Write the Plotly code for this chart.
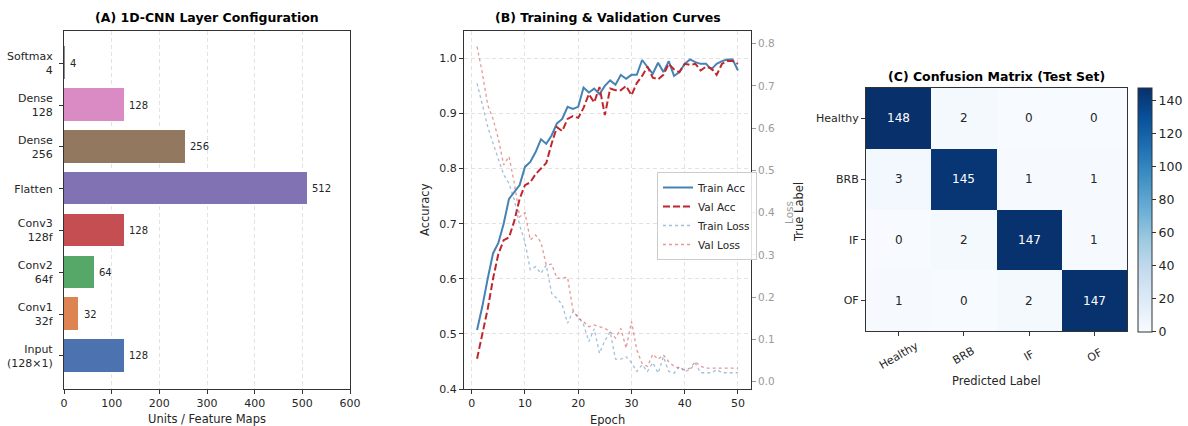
import plotly.graph_objects as go

# ---------------- Data ----------------
# Panel A: layer configuration
layer_labels = ["Input<br>(128×1)", "Conv1<br>32f", "Conv2<br>64f", "Conv3<br>128f",
                "Flatten", "Dense<br>256", "Dense<br>128", "Softmax<br>4"]
layer_units = [128, 32, 64, 128, 512, 256, 128, 4]
layer_colors = ["#4C72B0", "#DD8452", "#55A868", "#C44E52",
                "#8172B3", "#937860", "#DA8BC3", "#8C8C8C"]

# Panel B: training curves
epochs = list(range(1, 51))
train_acc = [0.507, 0.55, 0.60, 0.646, 0.665, 0.70, 0.745, 0.757, 0.77, 0.803,
             0.812, 0.83, 0.853, 0.845, 0.86, 0.882, 0.89, 0.912, 0.908, 0.912,
             0.947, 0.938, 0.945, 0.935, 0.95, 0.96, 0.952, 0.97, 0.963, 0.97,
             0.97, 0.997, 0.985, 0.972, 0.992, 0.975, 0.995, 0.968, 0.975, 0.99,
             0.998, 0.993, 0.99, 0.99, 0.98, 0.99, 0.995, 0.998, 0.998, 0.978]
val_acc = [0.455, 0.50, 0.545, 0.60, 0.645, 0.67, 0.675, 0.705, 0.745, 0.77,
           0.775, 0.79, 0.80, 0.81, 0.845, 0.875, 0.868, 0.89, 0.895, 0.892,
           0.91, 0.935, 0.92, 0.948, 0.897, 0.945, 0.942, 0.942, 0.95, 0.933,
           0.955, 0.968, 0.985, 0.965, 0.962, 0.97, 0.99, 0.98, 0.975, 0.99,
           0.988, 0.99, 0.978, 0.985, 0.982, 0.97, 0.99, 0.995, 0.995, 0.99]
train_loss = [0.706, 0.655, 0.604, 0.564, 0.525, 0.49, 0.469, 0.43, 0.37, 0.33,
              0.265, 0.272, 0.256, 0.276, 0.209, 0.197, 0.182, 0.138, 0.166, 0.154,
              0.135, 0.095, 0.125, 0.067, 0.097, 0.118, 0.053, 0.053, 0.059, 0.045,
              0.024, 0.04, 0.024, 0.045, 0.02, 0.059, 0.024, 0.02, 0.036, 0.024,
              0.028, 0.043, 0.021, 0.021, 0.021, 0.028, 0.021, 0.021, 0.021, 0.021]
val_loss = [0.793, 0.73, 0.655, 0.622, 0.575, 0.513, 0.533, 0.47, 0.39, 0.40,
            0.335, 0.347, 0.33, 0.276, 0.278, 0.245, 0.245, 0.247, 0.17, 0.15,
            0.142, 0.13, 0.134, 0.13, 0.126, 0.118, 0.103, 0.126, 0.079, 0.142,
            0.075, 0.043, 0.036, 0.065, 0.053, 0.063, 0.047, 0.036, 0.032, 0.028,
            0.032, 0.047, 0.036, 0.032, 0.032, 0.032, 0.032, 0.032, 0.032, 0.032]

# Panel C: confusion matrix
classes = ["Healthy", "BRB", "IF", "OF"]
conf_matrix = [[148, 2, 0, 0],
               [3, 145, 1, 1],
               [0, 2, 147, 1],
               [1, 0, 2, 147]]

blues = ["rgb(247,251,255)", "rgb(222,235,247)", "rgb(198,219,239)", "rgb(158,202,225)",
         "rgb(107,174,214)", "rgb(66,146,198)", "rgb(33,113,181)", "rgb(8,81,156)",
         "rgb(8,48,107)"]
blues_scale = [[i / (len(blues) - 1), c] for i, c in enumerate(blues)]

# ---------------- Figure geometry ----------------
W, H = 1188, 426
ML, MR, MT, MB = 40, 40, 10, 10
PW, PH = W - ML - MR, H - MT - MB
FONT = "DejaVu Sans"
FRAME = "#333333"
GRID = "#e3e3e3"
TXT = "#262626"


def px_x(p):
    return (p - ML) / PW


def px_y(p):
    return 1 - (p - MT) / PH


fig = go.Figure()

# Panel A bars
fig.add_trace(go.Bar(
    x=layer_units, y=list(range(len(layer_units))), orientation="h",
    width=0.8, marker=dict(color=layer_colors, line=dict(color="white", width=1)),
    showlegend=False, xaxis="x", yaxis="y", hoverinfo="x"))

annotations = []
for i, v in enumerate(layer_units):
    annotations.append(dict(x=v + 5, y=i, xref="x", yref="y", text=str(v),
                            showarrow=False, xanchor="left", yanchor="middle",
                            font=dict(family=FONT, size=10, color=TXT)))

# Panel B lines
fig.add_trace(go.Scatter(x=epochs, y=train_acc, mode="lines", name="Train Acc",
                         line=dict(color="#4682B4", width=2), xaxis="x2", yaxis="y2"))
fig.add_trace(go.Scatter(x=epochs, y=val_acc, mode="lines", name="Val Acc",
                         line=dict(color="#C0272D", width=2, dash="7px,3px"),
                         xaxis="x2", yaxis="y2"))
fig.add_trace(go.Scatter(x=epochs, y=train_loss, mode="lines", name="Train Loss",
                         line=dict(color="rgba(70,130,180,0.5)", width=1.3, dash="dot"),
                         xaxis="x2", yaxis="y3"))
fig.add_trace(go.Scatter(x=epochs, y=val_loss, mode="lines", name="Val Loss",
                         line=dict(color="rgba(205,50,50,0.5)", width=1.3, dash="dot"),
                         xaxis="x2", yaxis="y3"))

# Panel C heatmap
fig.add_trace(go.Heatmap(
    z=conf_matrix, x=classes, y=classes, colorscale=blues_scale, zmin=0, zmax=148,
    xaxis="x4", yaxis="y4", showscale=True, hoverinfo="z",
    colorbar=dict(x=px_x(1138), xanchor="left", y=px_y(209.5), yanchor="middle",
                  len=244.4 / PH, lenmode="fraction", thickness=14, thicknessmode="pixels",
                  outlinecolor=FRAME, outlinewidth=1, ticks="outside", ticklen=4,
                  tickcolor=FRAME, tickvals=[0, 20, 40, 60, 80, 100, 120, 140],
                  tickfont=dict(family=FONT, size=12.5, color=TXT), xpad=0, ypad=0)))

zmax = max(max(r) for r in conf_matrix)
for i, row in enumerate(conf_matrix):
    for j, v in enumerate(row):
        annotations.append(dict(x=classes[j], y=classes[i], xref="x4", yref="y4",
                                text=str(v), showarrow=False,
                                font=dict(family=FONT, size=12,
                                          color="white" if v > zmax / 2 else TXT)))

# rotated, centred x tick labels for the confusion matrix (matplotlib rotation=30)
for c in classes:
    annotations.append(dict(x=c, y=px_y(355), xref="x4", yref="paper",
                            xanchor="center", yanchor="middle", text=c,
                            showarrow=False, textangle=-30,
                            font=dict(family=FONT, size=11, color=TXT)))


def label(text, xc, yc, size=11.5, angle=0, color=TXT):
    annotations.append(dict(x=px_x(xc), y=px_y(yc), xref="paper", yref="paper",
                            xanchor="center", yanchor="middle",
                            text=text, showarrow=False, textangle=angle,
                            font=dict(family=FONT, size=size, color=color)))


label("<b>(A) 1D-CNN Layer Configuration</b>", 207, 18, size=12.5, color="black")
label("<b>(B) Training &amp; Validation Curves</b>", 607.5, 18, size=12.5, color="black")
label("<b>(C) Confusion Matrix (Test Set)</b>", 996.5, 77, size=12.5, color="black")
label("Units / Feature Maps", 207, 419)
label("Epoch", 607.5, 420)
label("Accuracy", 425, 210, angle=-90)
label("Loss", 789, 212, size=10.5, angle=-90, color="#9a9a9a")
label("True Label", 799, 212, angle=-90)
label("Predicted Label", 996.5, 381)

axis_common = dict(showline=True, linecolor=FRAME, linewidth=1.2, mirror=True,
                   ticks="outside", ticklen=4, tickcolor=FRAME, tickwidth=1,
                   zeroline=False, automargin=False,
                   tickfont=dict(family=FONT, size=11, color=TXT))
grid = dict(showgrid=True, gridcolor=GRID, griddash="4px,3px", gridwidth=1)

fig.update_layout(
    width=W, height=H, margin=dict(l=ML, r=MR, t=MT, b=MB, autoexpand=False),
    paper_bgcolor="white", plot_bgcolor="white",
    font=dict(family=FONT, color=TXT),
    xaxis=dict(domain=[px_x(64), px_x(350)], anchor="y", range=[0, 600],
               tickvals=[0, 100, 200, 300, 400, 500, 600], **grid, **axis_common),
    yaxis=dict(domain=[px_y(389), px_y(31)], anchor="x", range=[-0.79, 7.77],
               tickvals=list(range(len(layer_labels))), ticktext=layer_labels,
               ticklabelstandoff=4, showgrid=False, **axis_common),
    xaxis2=dict(domain=[px_x(464), px_x(751)], anchor="y2", range=[-1.45, 52.45],
                tickvals=[0, 10, 20, 30, 40, 50], **grid, **axis_common),
    yaxis2=dict(domain=[px_y(389), px_y(31)], anchor="x2", range=[0.4, 1.0496],
                tickvals=[0.4, 0.5, 0.6, 0.7, 0.8, 0.9, 1.0], tickformat=".1f",
                **grid, **axis_common),
    yaxis3=dict(overlaying="y2", anchor="x2", side="right", range=[-0.0175, 0.83],
                tickvals=[0, 0.1, 0.2, 0.3, 0.4, 0.5, 0.6, 0.7, 0.8], tickformat=".1f",
                showgrid=False, showline=False, zeroline=False, ticks="outside",
                ticklen=4, tickcolor="#9a9a9a", automargin=False,
                tickfont=dict(family=FONT, size=10.5, color="#9a9a9a")),
    xaxis4=dict(domain=[px_x(866), px_x(1127)], anchor="y4", showticklabels=False,
                showgrid=False, **axis_common),
    yaxis4=dict(domain=[px_y(331), px_y(88)], anchor="x4", autorange="reversed",
                showgrid=False, **axis_common),
    legend=dict(x=px_x(657), y=px_y(172), xanchor="left", yanchor="top",
                bgcolor="rgba(255,255,255,0.85)", bordercolor="#cccccc", borderwidth=1,
                font=dict(family=FONT, size=10.5, color=TXT), tracegroupgap=0,
                itemwidth=30),
    annotations=annotations,
    bargap=0,
)

fig.write_html("out.html")
